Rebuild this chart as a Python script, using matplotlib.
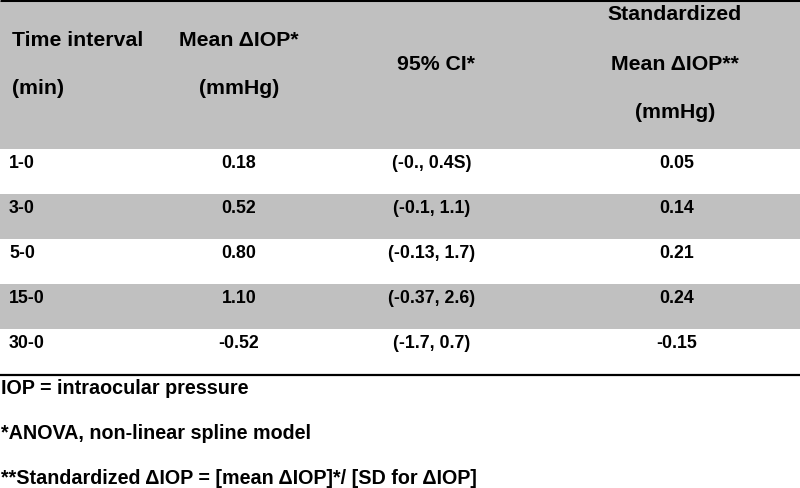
import matplotlib
matplotlib.use("Agg")
import matplotlib.pyplot as plt
from matplotlib.patches import Rectangle

intervals = ["1-0", "3-0", "5-0", "15-0", "30-0"]
mean_diop = ["0.18", "0.52", "0.80", "1.10", "-0.52"]
ci95 = ["(-0., 0.4S)", "(-0.1, 1.1)", "(-0.13, 1.7)", "(-0.37, 2.6)", "(-1.7, 0.7)"]
std_mean = ["0.05", "0.14", "0.21", "0.24", "-0.15"]
footnotes = ["IOP = intraocular pressure",
             "*ANOVA, non-linear spline model",
             "**Standardized \u0394IOP = [mean \u0394IOP]*/ [SD for \u0394IOP]"]

GRAY = "#c0c0c0"
W, H = 800, 489
fig = plt.figure(figsize=(8.0, 4.89), dpi=100)
ax = fig.add_axes([0, 0, 1, 1])
ax.set_xlim(0, W)
ax.set_ylim(H, 0)
ax.axis("off")

fam = ["Liberation Sans", "DejaVu Sans"]
hfont = dict(family=fam, fontweight="bold", fontsize=15.3, color="black")
ffont = dict(family=fam, fontweight="bold", fontsize=14.2, color="black")
dfont = dict(family=fam, fontweight="bold", fontsize=12.8, color="black")

# header background and top rule
ax.add_patch(Rectangle((0, 2), W, 148, facecolor=GRAY, edgecolor="none"))
ax.plot([0, W], [1.2, 1.2], color="black", lw=2.2, solid_capstyle="butt")

# header text
ax.text(12, 40, "Time interval", ha="left", va="center", **hfont)
ax.text(12, 88, "(min)", ha="left", va="center", **hfont)
ax.text(239, 40, "Mean \u0394IOP*", ha="center", va="center", **hfont)
ax.text(239, 88, "(mmHg)", ha="center", va="center", **hfont)
ax.text(436, 64, "95% CI*", ha="center", va="center", **hfont)
ax.text(675, 15, "Standardized", ha="center", va="center", **hfont)
ax.text(675, 64, "Mean \u0394IOP**", ha="center", va="center", **hfont)
ax.text(675, 113, "(mmHg)", ha="center", va="center", **hfont)

# data rows
row_top = 150
row_h = 45
for i, (a, b, c, d) in enumerate(zip(intervals, mean_diop, ci95, std_mean)):
    top = row_top + i * row_h
    if i % 2 == 1:
        ax.add_patch(Rectangle((0, top), W, row_h, facecolor=GRAY, edgecolor="none"))
    y = top + 13.5
    ax.text(9, y, a, ha="left", va="center", **dfont)
    ax.text(239, y, b, ha="center", va="center", **dfont)
    ax.text(432, y, c, ha="center", va="center", **dfont)
    ax.text(677, y, d, ha="center", va="center", **dfont)

bottom = row_top + len(intervals) * row_h
ax.plot([0, W], [bottom + 1, bottom + 1], color="black", lw=1.6, solid_capstyle="butt")

# footnotes
for j, t in enumerate(footnotes):
    ax.text(1, 388 + j * 45.5, t, ha="left", va="center", **ffont)

fig.savefig("out.png", dpi=100)
